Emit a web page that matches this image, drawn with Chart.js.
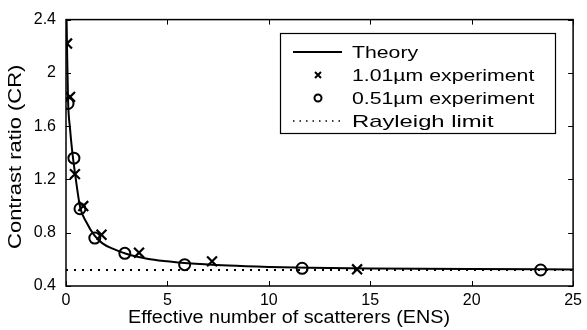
<!DOCTYPE html>
<html>
<head>
<meta charset="utf-8">
<script src="https://cdn.jsdelivr.net/npm/chart.js@4"></script>
<style>
  body { margin: 0; background: #fff; }
  #wrap { width: 587px; height: 330px; }
</style>
</head>
<body>
<div id="wrap"><canvas id="crChart" width="587" height="330"></canvas></div>
<script>
// values
const theoryX = [0.02, 0.05, 0.1, 0.2, 0.3, 0.45, 0.7, 1.0, 1.4, 1.8, 2.3, 3, 4, 5, 6, 8, 10, 12, 15, 20, 25];
const theoryY = [2.5, 2.2, 1.8, 1.58, 1.42, 1.24, 0.99, 0.88, 0.78, 0.72, 0.68, 0.64, 0.605, 0.585, 0.57, 0.553, 0.543, 0.537, 0.532, 0.527, 0.524];

const exp101X = [0.05, 0.2, 0.44, 0.85, 1.75, 3.6, 7.2, 14.35];
const exp101Y = [2.22, 1.82, 1.24, 1.0, 0.785, 0.65, 0.585, 0.525];

const exp051X = [0.1, 0.39, 0.69, 1.42, 2.9, 5.85, 11.64, 23.4];
const exp051Y = [1.77, 1.36, 0.98, 0.76, 0.645, 0.56, 0.533, 0.52];

const rayleighX = [0, 25];
const rayleighY = [0.52, 0.52];

const xTicks = [0, 5, 10, 15, 20, 25];
const yTicks = [0.4, 0.8, 1.2, 1.6, 2, 2.4];

const labels = ['Theory', '1.01\u00b5m experiment', '0.51\u00b5m experiment', 'Rayleigh limit'];
const xTitle = 'Effective number of scatterers (ENS)';
const yTitle = 'Contrast ratio (CR)';

function pts(xs, ys) {
  return xs.map((x, i) => ({ x: x, y: ys[i] }));
}

const FONT = "'Liberation Sans', Arial, sans-serif";

// wide text, the scan's lettering is broader than Arial
function wideText(ctx, text, x, y, sx, rot) {
  ctx.save();
  ctx.translate(x, y);
  if (rot) ctx.rotate(rot);
  ctx.scale(sx, 1);
  ctx.fillText(text, 0, 0);
  ctx.restore();
}

// frame, inward ticks, titles and the boxed legend
const framePlugin = {
  id: 'frame',
  afterDraw(chart) {
    const { ctx, chartArea: a, scales } = chart;
    ctx.save();
    ctx.strokeStyle = '#000';
    ctx.lineWidth = 1.5;
    ctx.strokeRect(a.left, a.top, a.right - a.left, a.bottom - a.top);
    ctx.lineWidth = 1;
    xTicks.forEach(v => {
      const px = Math.round(scales.x.getPixelForValue(v)) + 0.5;
      ctx.beginPath();
      ctx.moveTo(px, a.bottom); ctx.lineTo(px, a.bottom - 5);
      ctx.moveTo(px, a.top); ctx.lineTo(px, a.top + 5);
      ctx.stroke();
    });
    yTicks.forEach(v => {
      const py = Math.round(scales.y.getPixelForValue(v)) + 0.5;
      ctx.beginPath();
      ctx.moveTo(a.left, py); ctx.lineTo(a.left + 5, py);
      ctx.moveTo(a.right, py); ctx.lineTo(a.right - 5, py);
      ctx.stroke();
    });

    // axis titles
    ctx.fillStyle = '#000';
    ctx.font = '18px ' + FONT;
    ctx.textAlign = 'center';
    ctx.textBaseline = 'middle';
    wideText(ctx, xTitle, 289, 318, 1.1, 0);
    wideText(ctx, yTitle, 16, (a.top + a.bottom) / 2 + 4, 1.22, -Math.PI / 2);

    // legend
    const lx = 280, ly = 33, lw = 275, lh = 100;
    ctx.fillStyle = '#fff';
    ctx.fillRect(lx, ly, lw, lh);
    ctx.lineWidth = 1.2;
    ctx.strokeRect(lx + 0.5, ly + 0.5, lw, lh);
    ctx.font = '17px ' + FONT;
    ctx.fillStyle = '#000';
    ctx.textAlign = 'left';
    const rowY = [52, 75, 98, 121];
    labels.forEach((t, i) => {
      const y = rowY[i];
      wideText(ctx, t, 352, y + 1, i === 3 ? 1.4 : 1.25, 0);
      ctx.lineWidth = 2;
      ctx.setLineDash([]);
      if (i === 0) {
        ctx.beginPath(); ctx.moveTo(293, y); ctx.lineTo(342, y); ctx.stroke();
      } else if (i === 1) {
        ctx.beginPath();
        ctx.moveTo(315, y - 3); ctx.lineTo(321, y + 3);
        ctx.moveTo(321, y - 3); ctx.lineTo(315, y + 3);
        ctx.stroke();
      } else if (i === 2) {
        ctx.beginPath(); ctx.arc(318, y, 3.5, 0, Math.PI * 2); ctx.stroke();
      } else {
        ctx.lineWidth = 1.5;
        ctx.setLineDash([1.5, 5]);
        ctx.beginPath(); ctx.moveTo(293, y); ctx.lineTo(342, y); ctx.stroke();
      }
    });
    ctx.restore();
  }
};

const ctx = document.getElementById('crChart').getContext('2d');
new Chart(ctx, {
  type: 'scatter',
  data: {
    datasets: [
      {
        label: labels[3],
        data: pts(rayleighX, rayleighY),
        showLine: true,
        borderColor: '#000',
        borderWidth: 2,
        borderDash: [2, 6],
        pointRadius: 0
      },
      {
        label: labels[0],
        data: pts(theoryX, theoryY),
        showLine: true,
        borderColor: '#000',
        borderWidth: 2,
        cubicInterpolationMode: 'monotone',
        pointRadius: 0
      },
      {
        label: labels[1],
        data: pts(exp101X, exp101Y),
        pointStyle: 'crossRot',
        pointRadius: 7,
        borderColor: '#000',
        pointBorderWidth: 2.2
      },
      {
        label: labels[2],
        data: pts(exp051X, exp051Y),
        pointStyle: 'circle',
        pointRadius: 5.5,
        borderColor: '#000',
        backgroundColor: 'rgba(0,0,0,0)',
        pointBorderWidth: 2
      }
    ]
  },
  options: {
    responsive: false,
    animation: false,
    layout: { padding: { top: 15, right: 11, left: 0, bottom: 0 } },
    plugins: { legend: { display: false }, tooltip: { enabled: false } },
    scales: {
      x: {
        type: 'linear',
        min: 0,
        max: 25,
        afterBuildTicks: s => { s.ticks = xTicks.map(v => ({ value: v })); },
        afterFit: s => { s.height = 44; },
        grid: { display: false, drawTicks: false },
        border: { display: false },
        ticks: { color: '#000', font: { family: FONT, size: 16 }, padding: 5 },
        title: { display: false }
      },
      y: {
        min: 0.4,
        max: 2.4,
        afterBuildTicks: s => { s.ticks = yTicks.map(v => ({ value: v })); },
        afterFit: s => { s.width = 66; },
        grid: { display: false, drawTicks: false },
        border: { display: false },
        ticks: {
          color: '#000',
          font: { family: FONT, size: 16 },
          padding: 10,
          callback: v => String(parseFloat(v.toFixed(1)))
        },
        title: { display: false }
      }
    }
  },
  plugins: [framePlugin]
});
</script>
</body>
</html>
